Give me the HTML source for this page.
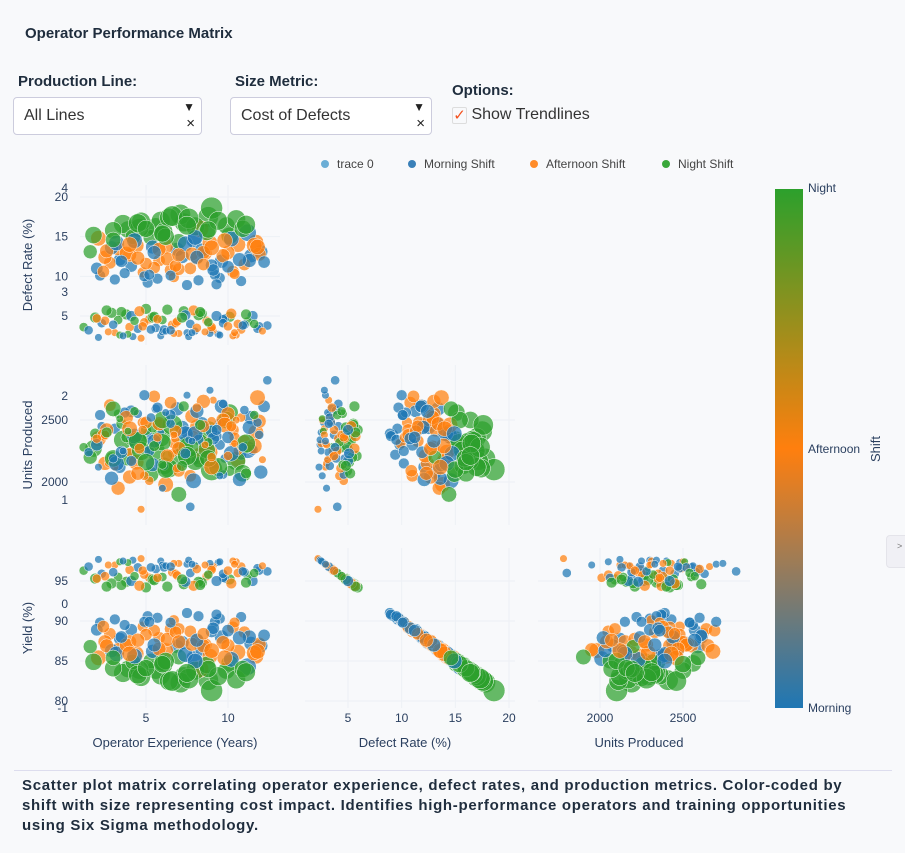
<!DOCTYPE html>
<html><head><meta charset="utf-8"><style>
body{margin:0;width:905px;height:853px;background:#f8f9fb;font-family:"Liberation Sans",sans-serif;color:#2a3f5f;overflow:hidden;position:relative}
.abs{position:absolute}
.title{left:25px;top:25px;font-size:15px;font-weight:bold;color:#1f2d3d}
.lbl{font-size:15px;font-weight:bold;color:#1f2d3d}
.dd{background:#fff;border:1px solid #ccd;border-radius:4px;height:36px;font-size:16px;color:#333}
.dd span.t{position:absolute;left:10px;top:9px}
.dd .ar{position:absolute;right:6px;top:2px;font-size:12px;color:#222}
.dd .x{position:absolute;right:6px;top:17px;font-size:15px;color:#222}
.cap{left:22px;top:776px;width:830px;font-size:15px;letter-spacing:0.7px;font-weight:bold;color:#1f2d3d;line-height:20px}
</style></head><body>
<div class="abs title">Operator Performance Matrix</div>
<div class="abs lbl" style="left:18px;top:73px">Production Line:</div>
<div class="abs dd" style="left:13px;top:97px;width:187px"><span class="t">All Lines</span><span class="ar">▼</span><span class="x">×</span></div>
<div class="abs lbl" style="left:235px;top:73px">Size Metric:</div>
<div class="abs dd" style="left:230px;top:97px;width:200px"><span class="t">Cost of Defects</span><span class="ar">▼</span><span class="x">×</span></div>
<div class="abs lbl" style="left:452px;top:82px">Options:</div>
<div class="abs" style="left:452px;top:106px;font-size:16px;color:#333"><span style="display:inline-block;width:13px;height:15px;border:1px solid #ddd;border-radius:2px;color:#f4511e;font-size:15px;line-height:15px;text-align:center;vertical-align:-1px">✓</span> Show Trendlines</div>
<div class="abs" style="left:886px;top:535px;width:20px;height:33px;background:#f0f0f5;border:1px solid #e4e4ea;border-radius:4px 0 0 4px;font-size:9px;color:#777;padding:5px 0 0 10px;box-sizing:border-box">&gt;</div>
<svg class="abs" style="left:0;top:0" width="905" height="770" id="chart"></svg>
<div class="abs" style="left:14px;top:770px;width:878px;border-top:1px solid #dde"></div>
<div class="abs cap">Scatter plot matrix correlating operator experience, defect rates, and production metrics. Color-coded by shift with size representing cost impact. Identifies high-performance operators and training opportunities using Six Sigma methodology.</div>
<script>
const experience=[2.1,3.4,4.8,5.6,6.9,7.7,8.8,9.5,10.6,11.4,2.8,3.9,5.1,6.2,7.3,8.1,9.2,10.1,11.0,12.0,1.8,3.1,4.4,5.9,6.5,7.9,8.6,9.9,10.8,11.7,2.5,3.6,4.1,5.3,6.7,7.1,8.4,9.0,10.3,11.2,2.2,3.3,4.6,5.8,6.1,7.5,8.9,9.6,10.5,11.9,2.9,4.2,5.5,6.4,7.2,8.3,9.3,10.0,4.9,7.0,
1.2,2.3,3.1,3.8,4.5,5.2,5.9,6.6,7.3,8.0,8.7,9.4,10.1,10.8,11.5,12.4,1.9,2.7,3.5,4.2,4.9,5.6,6.3,7.0,7.7,8.4,9.1,9.8,10.5,11.2,11.9,2.1,3.3,4.0,5.0,6.0,6.8,7.5,8.2,9.0,9.7,10.3,11.0,2.9,4.7,5.4,6.1,7.9,8.9,10.6,
2.0,2.6,3.0,3.7,4.0,4.3,4.7,5.0,5.4,5.7,6.0,6.3,6.6,7.0,7.4,7.8,8.0,8.2,8.5,8.7,9.0,9.4,9.7,10.2,10.4,10.9,11.3,11.6,12.2,1.6,2.4,3.2,3.8,4.5,5.2,5.8,6.2,6.8,7.6,8.1,8.8,9.1,9.8,10.7,11.1,11.8,3.5,4.0,5.0,6.0,7.0,8.0,9.0,6.5,7.5,8.5,5.5,4.5,3.0,10.0,
1.5,2.5,3.4,4.1,4.8,5.5,6.2,6.9,7.6,8.3,9.0,9.7,10.4,11.1,11.8,2.0,3.0,3.9,4.6,5.3,6.0,6.7,7.4,8.1,8.8,9.5,10.2,10.9,11.6,12.1,2.6,3.6,5.7,6.5,7.2,8.6,9.3,10.0,4.3,7.8];
const defectRate=[14.8,12.1,10.5,16.2,13.4,11.0,17.5,9.8,14.0,12.6,11.7,15.9,9.2,13.8,16.8,12.3,10.2,15.1,11.5,13.1,15.2,9.6,13.9,17.0,10.8,14.6,12.9,16.4,9.4,14.3,12.4,16.6,11.3,14.9,9.9,17.8,13.3,18.6,10.6,15.5,10.1,13.5,16.1,12.0,15.7,8.9,14.2,11.9,17.2,12.8,13.6,15.0,11.1,17.4,12.5,16.0,9.0,13.0,10.0,14.4,
3.6,4.1,2.9,5.2,3.4,4.6,2.5,3.9,5.6,3.1,4.4,2.7,4.9,3.3,5.0,3.8,4.8,3.0,5.5,2.4,4.2,3.5,5.8,2.8,4.0,5.3,3.2,4.7,2.6,4.3,3.7,2.3,4.5,3.6,5.9,3.0,4.1,2.9,5.1,3.4,4.6,2.5,3.9,5.4,2.2,4.8,3.3,5.7,2.8,4.0,
11.0,13.2,15.8,10.4,12.7,14.5,16.9,11.6,13.7,9.7,15.3,12.2,17.6,10.9,14.1,12.8,16.3,9.5,13.0,15.6,11.4,17.0,12.6,14.7,10.3,16.0,12.0,13.9,11.8,13.1,10.6,14.2,12.9,16.7,10.2,13.4,15.0,11.3,17.3,12.4,15.9,10.8,14.5,12.1,16.5,13.7,11.9,14.0,16.0,15.4,12.7,14.9,13.6,10.1,16.4,11.5,13.0,12.3,14.6,11.2,
3.2,4.4,2.6,5.0,3.7,4.9,3.1,4.3,2.4,5.5,3.6,4.1,2.9,5.2,3.4,4.7,3.9,2.7,5.6,3.3,4.5,2.8,5.1,3.5,4.2,2.6,5.3,3.8,4.0,3.1,5.7,2.5,4.6,3.2,4.8,3.0,5.0,3.7,4.4,2.9];
const unitsProduced=[2350,2120,2480,2250,2590,2050,2410,2300,2180,2520,2620,2200,2380,1980,2290,2450,2150,2560,2330,2080,2270,2430,2160,2360,2640,2010,2280,2500,2220,2400,2150,2340,2570,2060,2310,2190,2470,2100,2420,2260,2540,1950,2320,2460,2130,2390,2240,2610,2170,2490,2030,2350,2690,2110,2440,2210,2370,2550,2700,1900,
2280,2450,2120,2360,2550,2010,2400,2230,2610,2170,2330,2480,2090,2520,2260,2820,2390,2150,2470,2300,2050,2590,2210,2430,1800,2340,2660,2190,2500,2270,2380,2120,2550,2240,2420,1950,2350,2700,2160,2490,2060,2310,2580,2200,1780,2440,2130,2370,2740,2250,
2300,2420,2190,2560,2040,2370,2250,2480,2140,2600,2320,2210,2460,2090,2390,2530,2170,2340,2650,2260,2410,2120,2500,2230,2360,2070,2440,2290,2610,2200,2380,2150,2520,2330,2250,2470,2100,2410,2280,2570,2190,2350,2460,2020,2310,2680,2240,2430,2160,2500,2270,2390,2120,2540,2210,2450,2330,2070,2590,2360,
2240,2380,2510,2170,2420,2290,2560,2110,2340,2460,2200,2630,2310,2070,2480,2350,2190,2410,2270,2520,2140,2380,2230,2600,2320,2050,2450,2280,2540,2180,2400,2250,2360,2470,2130,2300,2420,2210,2570,2330];
const yieldPct=[85.4,87.8,89.3,83.9,86.8,88.7,82.6,90.3,86.1,87.2,88.4,84.0,90.6,86.3,83.1,87.5,89.9,84.7,88.6,86.9,84.9,90.2,85.9,83.2,89.0,85.3,87.0,83.8,90.5,85.6,87.4,83.5,88.9,85.0,90.1,82.3,86.5,81.3,89.2,84.3,89.8,86.4,83.9,87.9,84.5,91.0,85.6,88.0,82.7,87.1,86.3,84.9,88.8,82.5,87.3,84.0,90.8,86.9,89.9,85.5,
96.3,95.9,97.0,94.9,96.7,95.4,97.5,96.1,94.6,96.9,95.6,97.3,95.2,96.8,95.0,96.2,95.3,97.0,94.5,97.6,95.8,96.5,94.3,97.2,96.0,94.8,96.8,95.3,97.4,95.7,96.3,97.7,95.5,96.4,94.2,97.0,95.9,97.1,94.9,96.6,95.4,97.5,96.1,94.7,97.8,95.2,96.7,94.4,97.2,96.0,
88.9,86.9,84.1,89.5,87.4,85.6,83.0,88.3,86.2,90.4,84.8,87.7,82.5,89.0,85.8,87.1,83.8,90.6,86.9,84.5,88.7,83.1,87.3,85.2,89.8,84.0,88.0,86.0,88.2,86.8,89.3,85.9,87.0,83.3,89.9,86.5,85.0,88.6,82.8,87.6,84.0,89.1,85.4,87.9,83.6,86.2,88.0,85.9,84.1,84.6,87.4,85.0,86.3,89.8,83.5,88.4,87.0,87.6,85.4,88.8,
96.8,95.6,97.4,95.0,96.3,95.1,96.9,95.7,97.6,94.5,96.4,95.9,97.1,94.8,96.6,95.3,96.1,97.3,94.4,96.7,95.5,97.2,94.9,96.5,95.8,97.4,94.7,96.2,96.0,96.9,94.3,97.5,95.4,96.8,95.2,97.0,95.0,96.3,95.6,97.1];
const shift=[1,0,1,2,0,1,2,0,1,0,1,2,0,1,2,1,0,2,1,0,2,0,1,2,1,0,1,2,0,1,1,2,0,2,1,2,0,2,1,0,0,1,2,1,2,0,1,0,2,1,0,2,1,2,0,1,0,1,0,2,
2,0,1,2,0,1,0,1,2,0,1,0,2,1,0,0,2,1,2,0,1,0,2,1,0,2,1,0,1,2,0,0,2,1,2,0,1,0,2,1,0,1,0,2,1,2,0,1,0,1,
0,1,2,0,1,0,2,1,0,0,2,1,2,1,0,1,2,0,1,2,0,2,1,0,1,2,0,1,0,2,1,0,1,2,0,1,2,1,2,0,2,0,1,0,2,1,0,1,2,2,1,0,1,0,2,1,0,1,2,0,
0,1,2,0,1,2,0,1,0,2,1,0,1,2,0,1,0,2,1,0,2,1,0,1,2,0,1,0,2,1,2,0,1,0,2,1,0,1,2,0];
const cost=[6,4,3,8,5,4,9,3,6,5,4,7,3,6,8,5,3,7,4,5,7,3,6,8,4,6,5,7,3,6,5,8,4,6,3,9,5,10,4,7,3,5,8,4,7,3,6,5,8,5,5,6,4,8,5,7,3,5,3,6,
2,2,1,3,2,2,1,2,3,1,2,1,3,2,3,2,3,1,3,1,2,2,3,1,2,3,1,2,1,2,2,1,2,2,3,1,2,1,3,2,2,1,2,3,1,3,2,3,1,2,
4,5,7,3,5,6,8,4,5,3,7,5,9,4,6,5,8,3,5,7,4,8,5,6,3,7,5,6,4,5,4,6,5,8,3,5,7,4,9,5,7,4,6,5,8,6,4,6,7,7,5,6,6,3,8,4,5,5,6,4,
2,2,1,3,2,3,1,2,1,3,2,2,1,3,2,2,2,1,3,2,2,1,3,2,2,1,3,2,2,1,3,1,2,2,3,1,3,2,2,1];
const shiftNames=["Morning Shift","Afternoon Shift","Night Shift"];
const colorbarLabels=["Night","Afternoon","Morning"];
const expTicks=[5,10], defTicks=[5,10,15,20], unitTicks=[2000,2500], yieldTicks=[80,85,90,95];
const colors=["#1f77b4","#ff7f0e","#2ca02c"];
const NS="http://www.w3.org/2000/svg";
const svg=document.getElementById('chart');
function mk(t,a,p){const e=document.createElementNS(NS,t);for(const k in a)e.setAttribute(k,a[k]);(p||svg).appendChild(e);return e;}
function lin(d0,d1,r0,r1){return v=>r0+(v-d0)*(r1-r0)/(d1-d0);}
const cols=[{x0:80,x1:280,s:lin(5,10,146,228),ticks:expTicks,v:experience,t:"Operator Experience (Years)"},
{x0:305,x1:515,s:lin(5,20,348,509),ticks:defTicks,v:defectRate,t:"Defect Rate (%)"},
{x0:538,x1:750,s:lin(2000,2500,600,683),ticks:unitTicks,v:unitsProduced,t:"Units Produced"}];
const rows=[{y0:185,y1:345,s:lin(20,5,197,316),ticks:[5,10,15,20],v:defectRate,t:"Defect Rate (%)",ex:[["4",188],["3",292]]},
{y0:365,y1:525,s:lin(2000,2500,482,420),ticks:unitTicks,v:unitsProduced,t:"Units Produced",ex:[["2",396],["1",500]]},
{y0:548,y1:708,s:lin(80,95,701,581),ticks:yieldTicks,v:yieldPct,t:"Yield (%)",ex:[["0",604],["-1",708]]}];
const pairs=[[0,0],[1,0],[1,1],[2,0],[2,1],[2,2]];
pairs.forEach(([ri,ci])=>{
 const r=rows[ri],c=cols[ci];
 const g=mk('g',{});
 
 
 c.ticks.forEach(t=>mk('line',{x1:c.s(t),x2:c.s(t),y1:r.y0,y2:r.y1,stroke:'#edf0f5'},g));
 r.ticks.forEach(t=>mk('line',{x1:c.x0,x2:c.x1,y1:r.s(t),y2:r.s(t),stroke:'#edf0f5'},g));
 for(let i=0;i<experience.length;i++){
  const p=mk('circle',{cx:c.s(c.v[i]),cy:r.s(r.v[i]),r:3+cost[i]*0.8,fill:colors[shift[i]],'fill-opacity':0.72,stroke:'#fff','stroke-width':0.5},g);
  
  
 }
});
rows.forEach((r,ri)=>{
 r.ticks.forEach(t=>{const e=mk('text',{x:68,y:r.s(t)+4,'text-anchor':'end','font-size':12,fill:'#2a3f5f'});e.textContent=t;
 });
 r.ex.forEach(([s,y])=>{const e=mk('text',{x:68,y:y+4,'text-anchor':'end','font-size':12,fill:'#2a3f5f'});e.textContent=s;
 });
 const cy=(r.y0+r.y1)/2;const e=mk('text',{x:0,y:0,transform:`translate(32,${cy}) rotate(-90)`,'text-anchor':'middle','font-size':13,fill:'#2a3f5f'});e.textContent=r.t;
 
});
cols.forEach(c=>{
 c.ticks.forEach(t=>{const e=mk('text',{x:c.s(t),y:722,'text-anchor':'middle','font-size':12,fill:'#2a3f5f'});e.textContent=t;
 });
 const e=mk('text',{x:(c.x0+c.x1)/2-5,y:747,'text-anchor':'middle','font-size':13,fill:'#2a3f5f'});e.textContent=c.t;
 
});
const leg=[["trace 0","#6baed6",325],["Morning Shift","#3a80b8",412],["Afternoon Shift","#ff8c2a",534],["Night Shift","#3aa83a",666]];
leg.forEach(([t,col,x])=>{const g=mk('g',{});
 
 mk('circle',{cx:x,cy:164,r:4,fill:col},g);
 const e=mk('text',{x:x+12,y:168,'font-size':12,fill:'#444'},g);e.textContent=t;});
const defs=mk('defs',{});const lg=mk('linearGradient',{id:'cb',x1:0,y1:1,x2:0,y2:0},defs);
[["0%","#1f77b4"],["50%","#ff7f0e"],["100%","#2ca02c"]].forEach(([o,c])=>mk('stop',{offset:o,'stop-color':c},lg));
const cb=mk('rect',{x:775,y:189,width:28,height:519,fill:'url(#cb)'});

[[colorbarLabels[0],192],[colorbarLabels[1],453],[colorbarLabels[2],712]].forEach(([t,y])=>{const e=mk('text',{x:808,y:y,'font-size':12,fill:'#2a3f5f'});e.textContent=t;
 });
const st=mk('text',{x:0,y:0,transform:'translate(880,449) rotate(-90)','text-anchor':'middle','font-size':13,fill:'#2a3f5f'});st.textContent="Shift";

</script>
</body></html>
